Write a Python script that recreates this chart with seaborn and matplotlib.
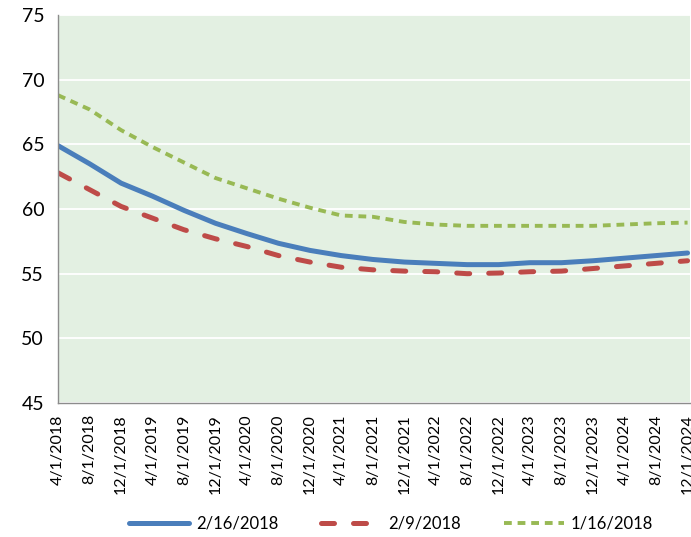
import matplotlib
matplotlib.use("Agg")
import matplotlib.pyplot as plt
import pandas as pd
import seaborn as sns

# Tick dates (every 4 months), values at those dates
dates = ["4/1/2018", "8/1/2018", "12/1/2018", "4/1/2019", "8/1/2019", "12/1/2019",
         "4/1/2020", "8/1/2020", "12/1/2020", "4/1/2021", "8/1/2021", "12/1/2021",
         "4/1/2022", "8/1/2022", "12/1/2022", "4/1/2023", "8/1/2023", "12/1/2023",
         "4/1/2024", "8/1/2024", "12/1/2024"]
feb16 = [64.9, 63.5, 62.0, 61.0, 59.9, 58.9, 58.1, 57.35, 56.8, 56.4, 56.1, 55.9,
         55.8, 55.7, 55.7, 55.85, 55.85, 56.0, 56.2, 56.4, 56.6]
feb9 = [62.8, 61.5, 60.2, 59.3, 58.4, 57.7, 57.1, 56.4, 55.9, 55.5, 55.3, 55.2,
        55.15, 55.0, 55.05, 55.15, 55.2, 55.4, 55.6, 55.8, 56.0]
jan16 = [68.8, 67.7, 66.1, 64.8, 63.6, 62.4, 61.6, 60.8, 60.1, 59.5, 59.4, 59.0,
         58.8, 58.7, 58.7, 58.7, 58.7, 58.7, 58.8, 58.9, 58.95]
series_names = ["2/16/2018", "2/9/2018", "1/16/2018"]

x = pd.to_datetime(dates, format="%m/%d/%Y")

sns.set_style("white")
plt.rcParams["font.family"] = ["Lato", "DejaVu Sans"]
plt.rcParams["text.color"] = "black"
plt.rcParams["xtick.color"] = "black"
plt.rcParams["ytick.color"] = "black"

fig = plt.figure(figsize=(6.91, 5.37), dpi=100)
ax = fig.add_axes([0.084, 0.2495, 0.914, 0.7225])
ax.set_facecolor("#E3F0E2")

sns.lineplot(x=x, y=feb16, ax=ax, color="#4A7EBB", linewidth=3.6,
             label=series_names[0])
sns.lineplot(x=x, y=feb9, ax=ax, color="#BE4B48", linewidth=3.6,
             label=series_names[1])
ax.lines[1].set_dashes([2.6, 3.8])
ax.lines[1].set_dash_capstyle("round")
sns.lineplot(x=x, y=jan16, ax=ax, color="#98B954", linewidth=2.8,
             label=series_names[2])
ax.lines[2].set_dashes([2.0, 1.5])

ax.set_ylim(45, 75)
ax.set_yticks(range(45, 80, 5))
ax.set_xlim(x[0], x[-1] + pd.Timedelta(days=8))
ax.set_xticks(x)
ax.set_xticklabels(dates, rotation=90)
ax.yaxis.grid(True, color="white", linewidth=1.3)
ax.set_axisbelow(True)

for side in ["top", "right"]:
    ax.spines[side].set_visible(False)
for side in ["left", "bottom"]:
    ax.spines[side].set_color("#8C8C8C")
    ax.spines[side].set_linewidth(1.0)
ax.tick_params(axis="both", direction="out", length=5, width=1, color="#8C8C8C")
ax.tick_params(axis="y", labelsize=14, pad=5)
ax.tick_params(axis="x", labelsize=11.5, pad=3)
ax.set_xlabel("")
ax.set_ylabel("")

leg = ax.legend(loc="center", ncol=3, frameon=False, fontsize=12,
                handlelength=3.6, columnspacing=2.6, handletextpad=0.4)
leg.set_bbox_to_anchor((0.566, 0.025), transform=fig.transFigure)

fig.savefig("out.png", dpi=100)
